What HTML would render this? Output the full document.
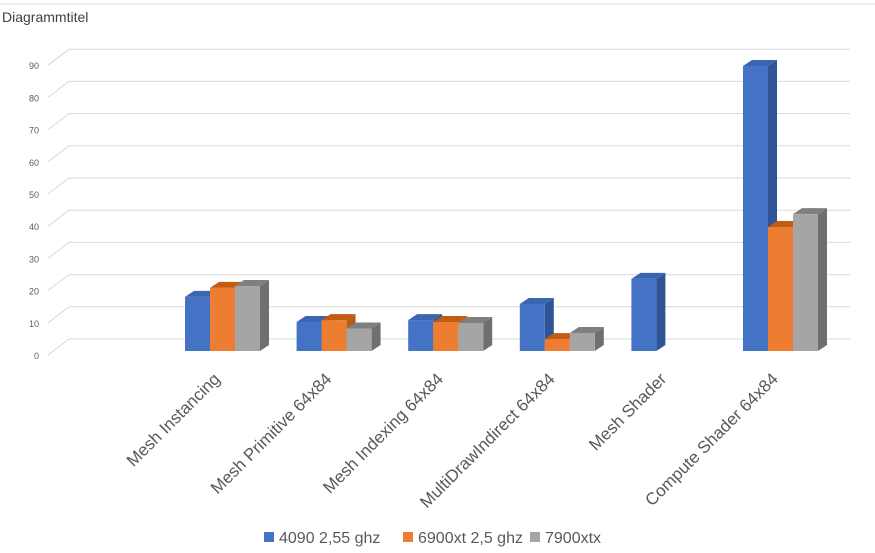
<!DOCTYPE html>
<html><head><meta charset="utf-8"><style>
body{margin:0;width:875px;height:553px;background:#fff;overflow:hidden;font-family:"Liberation Sans",sans-serif}
</style></head><body>
<svg id="chart" width="875" height="553" xmlns="http://www.w3.org/2000/svg" style="position:absolute;left:0;top:0">
<line x1="0" y1="4" x2="875" y2="4" stroke="#d9d9d9"/>
<text x="2" y="22" font-size="14" fill="#404040">Diagrammtitel</text>
<g id="grid"></g><g id="bars"></g><g id="labels"></g>
<g font-size="16" fill="#595959">
<rect x="264" y="532" width="10" height="10" fill="#4472c4"/>
<text x="279" y="543">4090 2,55 ghz</text>
<rect x="403" y="532" width="10" height="10" fill="#ed7d31"/>
<text x="418" y="543">6900xt 2,5 ghz</text>
<rect x="530" y="532" width="10" height="10" fill="#a5a5a5"/>
<text x="545" y="543">7900xtx</text>
</g>
</svg>
<script>
const categories=["Mesh Instancing","Mesh Primitive 64x84","Mesh Indexing 64x84","MultiDrawIndirect 64x84","Mesh Shader","Compute Shader 64x84"];
const s4090=[16.8,9,9.6,14.6,22.4,88.5];
const s6900=[19.6,9.6,9,3.7,null,38.5];
const s7900=[20.2,7,8.7,5.6,null,42.5];
const ticks=[0,10,20,30,40,50,60,70,80,90];
const NS="http://www.w3.org/2000/svg";
const pxPer=3.22, backBase=339, frontBase=351;
const yBack=v=>backBase-v*pxPer, yFront=v=>frontBase-v*pxPer;
const xCenter=i=>222+i*111.6;
function mk(t,a,p){const e=document.createElementNS(NS,t);for(const k in a)e.setAttribute(k,a[k]);p.appendChild(e);return e;}
const grid=document.getElementById('grid');
ticks.forEach(t=>{
  const y=yBack(t);
  const l=mk('line',{x1:69,y1:y,x2:850,y2:y,stroke:'#d9d9d9','stroke-width':1},grid);
  
  
  const d=mk('line',{x1:48,y1:y+16,x2:69,y2:y,stroke:'#d9d9d9','stroke-width':1},grid);
  
  
  const tx=mk('text',{x:39,y:y+20,'font-size':9,fill:'#595959','text-anchor':'end'},grid);
  tx.textContent=t;
  
  
});
const bars=document.getElementById('bars');
const series=[[s4090,'#4472c4','#2f5597','#3b65b0','4090'],[s6900,'#ed7d31','#b85b1e','#c55a11','6900xt'],[s7900,'#a5a5a5','#6f6f6f','#7f7f7f','7900xtx']];
const bw=25,dx=9,dy=6;
categories.forEach((c,i)=>{
  series.forEach((s,j)=>{
    const v=s[0][i]; if(v==null)return;
    const x=xCenter(i)-37+j*bw, top=yFront(v), bot=frontBase;
    const g=mk('g',{},bars);
    
    
    mk('polygon',{points:`${x+bw},${top} ${x+bw+dx},${top-dy} ${x+bw+dx},${bot-dy} ${x+bw},${bot}`,fill:s[2]},g);
    mk('polygon',{points:`${x},${top} ${x+dx},${top-dy} ${x+bw+dx},${top-dy} ${x+bw},${top}`,fill:s[3]},g);
    mk('rect',{x:x,y:top,width:bw,height:bot-top,fill:s[1]},g);
  });
});
const labels=document.getElementById('labels');
categories.forEach((c,i)=>{
  const x=xCenter(i)-1,y=380;
  const t=mk('text',{x:x,y:y,'font-size':17,fill:'#595959','text-anchor':'end',transform:`rotate(-45 ${x} ${y})`},labels);
  t.textContent=c;
  
  
});
</script>
</body></html>
